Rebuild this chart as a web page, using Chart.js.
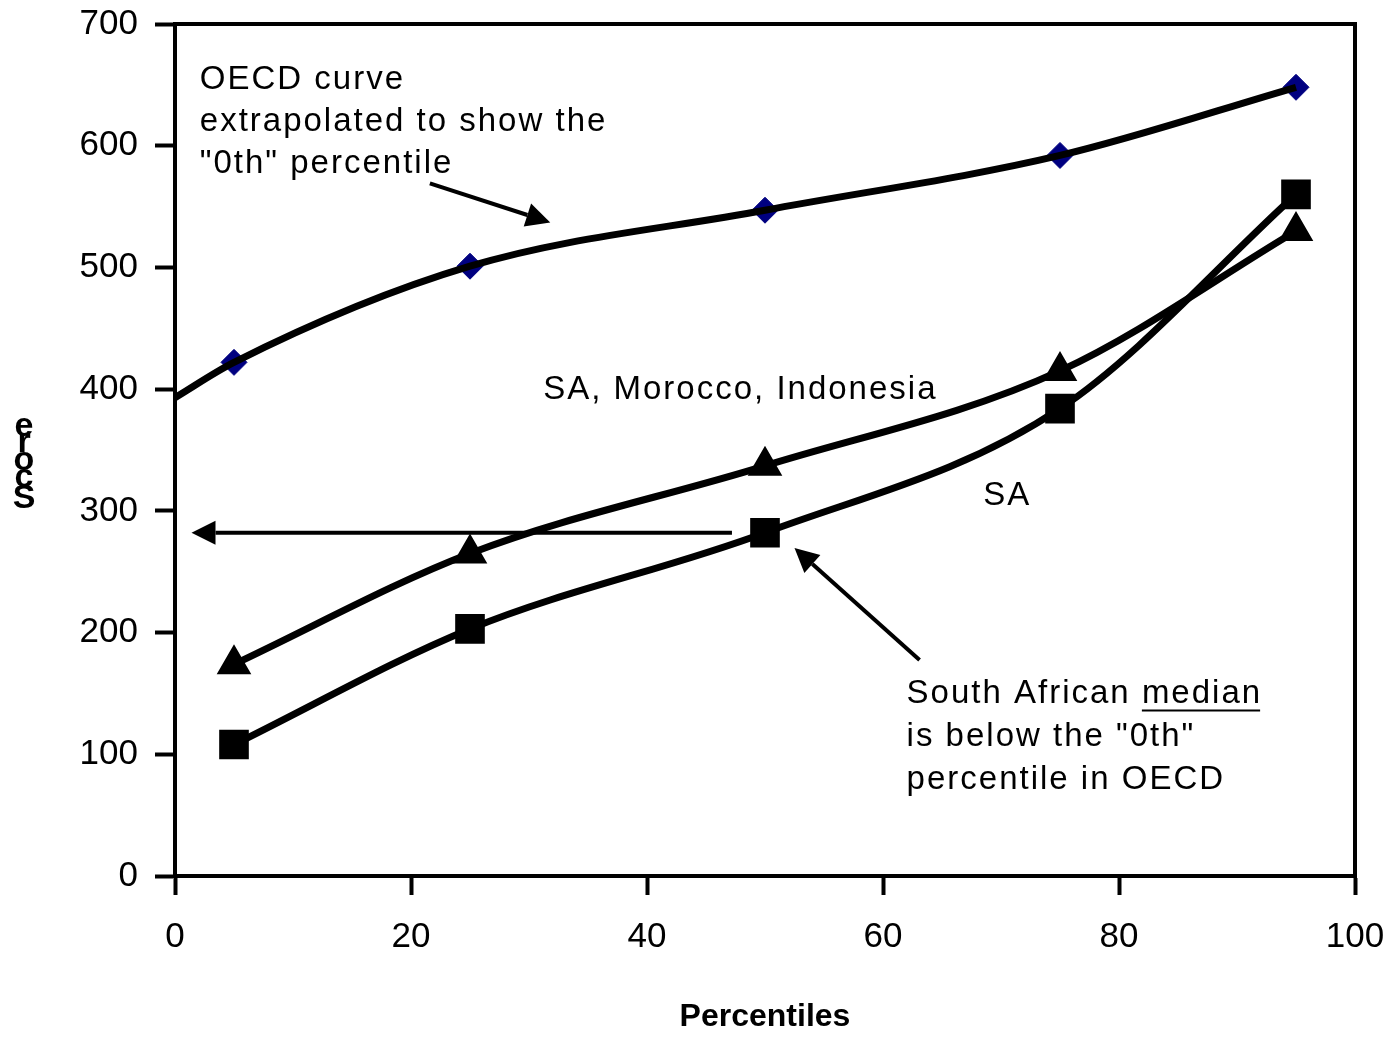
<!DOCTYPE html>
<html>
<head>
<meta charset="utf-8">
<script src="https://cdn.jsdelivr.net/npm/chart.js@4.4.0/dist/chart.umd.min.js"></script>
<style>
html, body { margin: 0; padding: 0; background: #fff; }
</style>
</head>
<body>
<canvas id="chart" width="1393" height="1038"></canvas>
<script>
const percentiles = [5, 25, 50, 75, 95]
const oecdScores = [422, 501, 547, 592, 648]
// OECD trend curve, extended back to the "0th" percentile
const oecdCurveX = [0, 5, 25, 50, 75, 95]
const oecdCurveY = [393, 422, 501, 547, 592, 648]
const groupScores = [174, 265, 337, 415, 530]   // SA, Morocco, Indonesia
const saScores = [108, 203, 282, 384, 560]      // SA

const font = '"Liberation Sans", Arial, sans-serif'
Chart.defaults.font.family = font
Chart.defaults.color = '#000'

function toPoints(xs, ys){
    return xs.map((x, i) => ({x: x, y: ys[i]}))
}

function drawArrow(ctx, x1, y1, x2, y2){
    const ang = Math.atan2(y2 - y1, x2 - x1)
    const len = 24, half = 12
    const bx = x2 - Math.cos(ang) * len
    const by = y2 - Math.sin(ang) * len
    ctx.beginPath()
    ctx.moveTo(x1, y1)
    ctx.lineTo(bx, by)
    ctx.stroke()
    ctx.beginPath()
    ctx.moveTo(x2, y2)
    ctx.lineTo(bx - Math.sin(ang) * half, by + Math.cos(ang) * half)
    ctx.lineTo(bx + Math.sin(ang) * half, by - Math.cos(ang) * half)
    ctx.closePath()
    ctx.fill()
}

// no extra room for tick label overflow, the padding below sets the plot box
function noScalePadding(scale){
    scale.paddingTop = 0
    scale.paddingBottom = 0
    scale.paddingLeft = 0
    scale.paddingRight = 0
}

const notes = {
    id: 'notes',
    afterDraw(chart){
        const {ctx, chartArea: a, scales: {x, y}} = chart
        ctx.save()
        ctx.strokeStyle = '#000'
        ctx.fillStyle = '#000'

        // frame round the plot
        ctx.lineWidth = 4
        ctx.strokeRect(a.left, a.top, a.right - a.left, a.bottom - a.top)

        // arrows
        ctx.lineWidth = 4
        drawArrow(ctx, x.getPixelForValue(21.6), y.getPixelForValue(569), x.getPixelForValue(31.8), y.getPixelForValue(537))
        drawArrow(ctx, x.getPixelForValue(47.2), y.getPixelForValue(282), x.getPixelForValue(1.4), y.getPixelForValue(282))
        drawArrow(ctx, x.getPixelForValue(63.1), y.getPixelForValue(177.5), x.getPixelForValue(52.5), y.getPixelForValue(269.5))

        // text notes
        ctx.font = '33px ' + font
        ctx.letterSpacing = '2px'
        ctx.textAlign = 'left'
        ctx.textBaseline = 'middle'
        const oecdNote = ['OECD curve', 'extrapolated to show the', '"0th" percentile']
        let px = x.getPixelForValue(2.1), py = y.getPixelForValue(654)
        oecdNote.forEach((t, i) => ctx.fillText(t, px, py + i * 42))

        ctx.fillText('SA, Morocco, Indonesia', x.getPixelForValue(31.2), y.getPixelForValue(399))
        ctx.fillText('SA', x.getPixelForValue(68.5), y.getPixelForValue(312))

        const saNote = ['South African median', 'is below the "0th"', 'percentile in OECD']
        px = x.getPixelForValue(62)
        py = y.getPixelForValue(150)
        saNote.forEach((t, i) => ctx.fillText(t, px, py + i * 43))
        const pre = ctx.measureText('South African ').width
        const word = ctx.measureText('median').width
        ctx.lineWidth = 2
        ctx.beginPath()
        ctx.moveTo(px + pre, py + 17)
        ctx.lineTo(px + pre + word - 2, py + 17)
        ctx.stroke()

        // y axis title, letters stacked as in the source
        ctx.letterSpacing = '0px'
        ctx.font = 'bold 34px ' + font
        ctx.textAlign = 'center'
        const letters = ['e', 'r', 'o', 'c', 'S']
        const ly = [427, 443, 461, 478, 499]
        letters.forEach((c, i) => ctx.fillText(c, 24, ly[i]))
        ctx.restore()
    }
}

new Chart(document.getElementById('chart'), {
    type: 'line',
    data: {
        datasets: [
            {
                label: 'OECD curve',
                data: toPoints(oecdCurveX, oecdCurveY),
                borderColor: '#000',
                borderWidth: 7,
                pointRadius: 0,
                cubicInterpolationMode: 'monotone',
                order: 1
            },
            {
                label: 'OECD',
                data: toPoints(percentiles, oecdScores),
                showLine: false,
                pointStyle: 'rectRot',
                pointRadius: 13,
                backgroundColor: '#000080',
                borderColor: '#000080',
                borderWidth: 1,
                order: 2
            },
            {
                label: 'SA, Morocco, Indonesia',
                data: toPoints(percentiles, groupScores),
                borderColor: '#000',
                borderWidth: 7,
                pointStyle: 'triangle',
                pointRadius: 13,
                backgroundColor: '#000',
                cubicInterpolationMode: 'monotone',
                order: 0
            },
            {
                label: 'SA',
                data: toPoints(percentiles, saScores),
                borderColor: '#000',
                borderWidth: 7,
                pointStyle: 'rect',
                pointRadius: 16,
                backgroundColor: '#000',
                cubicInterpolationMode: 'monotone',
                order: 0
            }
        ]
    },
    options: {
        responsive: false,
        animation: false,
        layout: {padding: {left: 0, top: 24, right: 38, bottom: 0}},
        plugins: {legend: {display: false}, tooltip: {enabled: false}},
        scales: {
            x: {
                type: 'linear',
                min: 0,
                max: 100,
                ticks: {stepSize: 20, font: {size: 35}, padding: 21, color: '#000'},
                grid: {drawOnChartArea: false, drawTicks: true, tickLength: 19, tickWidth: 4, color: '#000'},
                border: {display: true, width: 4, color: '#000'},
                title: {display: true, text: 'Percentiles', font: {size: 32, weight: 'bold'}, color: '#000', padding: {top: 0, bottom: 2}},
                afterFit(scale){ scale.height = 162; noScalePadding(scale) }
            },
            y: {
                min: 0,
                max: 700,
                ticks: {stepSize: 100, font: {size: 35}, padding: 17, color: '#000'},
                grid: {drawOnChartArea: false, drawTicks: true, tickLength: 20, tickWidth: 4, color: '#000'},
                border: {display: true, width: 4, color: '#000'},
                afterFit(scale){ scale.width = 175; noScalePadding(scale) }
            }
        }
    },
    plugins: [notes]
})
</script>
</body>
</html>
